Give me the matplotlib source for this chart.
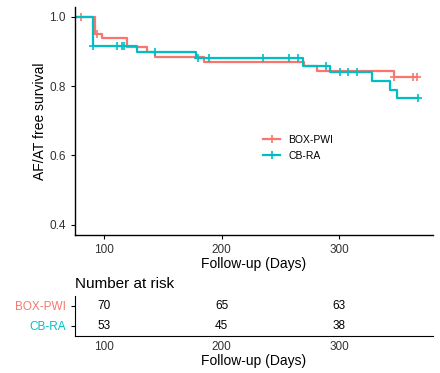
import numpy as np
import matplotlib
matplotlib.use('Agg')
from matplotlib import pyplot as plt

plt.rcParams['font.family'] = ['Liberation Sans', 'DejaVu Sans']

RED = '#F8766D'
CYAN = '#00BFC4'
GROUPS = ['BOX-PWI', 'CB-RA']

# Kaplan-Meier steps
box_times = [0, 92, 98, 119, 136, 143, 184.5, 270, 281, 347, 366]
box_surv = [1.0, 0.950, 0.938, 0.912, 0.900, 0.884, 0.869, 0.858, 0.843, 0.827, 0.827]
box_censor = [80, 94, 347, 363, 366]

cb_times = [0, 90, 128, 178, 269.6, 292, 328, 343, 349, 367]
cb_surv = [1.0, 0.916, 0.899, 0.880, 0.859, 0.840, 0.814, 0.790, 0.766, 0.766]
cb_censor = [90, 111, 115, 117, 143, 180, 189, 235, 257, 265, 289, 301, 308, 315, 367]

risk_times = [100, 200, 300]
risk_box = [70, 65, 63]
risk_cb = [53, 45, 38]

XLIM = (75, 380)
TXT = '#333333'


def step_value(times, surv, t):
    idx = np.searchsorted(times, t, side='right') - 1
    return np.asarray(surv)[idx]


fig = plt.figure(figsize=(4.4, 3.73), dpi=100)

ax = fig.add_axes([75 / 440, 1 - 235 / 373, (433 - 75) / 440, (235 - 6.5) / 373])
for times, surv, cens, col, name in [(box_times, box_surv, box_censor, RED, GROUPS[0]),
                                     (cb_times, cb_surv, cb_censor, CYAN, GROUPS[1])]:
    ax.step(times, surv, where='post', color=col, lw=1.6)
    ax.plot(cens, step_value(times, surv, cens), linestyle='none',
            marker='+', color=col, markersize=6, markeredgewidth=1.2)
    ax.plot([], [], color=col, lw=1.6, marker='+', markersize=6,
            markeredgewidth=1.2, label=name)

ax.set_xlim(*XLIM)
ax.set_ylim(0.37, 1.03)
ax.set_yticks([0.4, 0.6, 0.8, 1.0])
ax.set_xticks([100, 200, 300])
ax.set_xlabel('Follow-up (Days)', fontsize=10, labelpad=1)
ax.set_ylabel('AF/AT free survival', fontsize=10, labelpad=2)
ax.tick_params(labelsize=8.5, labelcolor=TXT, length=3, width=0.8)
for s in ['top', 'right']:
    ax.spines[s].set_visible(False)
for s in ['left', 'bottom']:
    ax.spines[s].set_linewidth(1.0)
ax.legend(loc='upper left', bbox_to_anchor=(0.5, 0.48), frameon=False,
          fontsize=7.5, handlelength=1.6, labelspacing=0.6)

# risk table
rax = fig.add_axes([75 / 440, 1 - 336 / 373, (433 - 75) / 440, 40 / 373])
for row, vals in [(1, risk_box), (0, risk_cb)]:
    for t, v in zip(risk_times, vals):
        rax.text(t, row, str(v), ha='center', va='center', fontsize=8.5, color='black')
rax.set_xlim(*XLIM)
rax.set_ylim(-0.5, 1.5)
rax.set_yticks([1, 0])
rax.set_yticklabels(GROUPS, fontsize=8.5)
for lab, col in zip(rax.get_yticklabels(), [RED, CYAN]):
    lab.set_color(col)
rax.set_xticks([100, 200, 300])
rax.tick_params(axis='x', labelsize=8.5, labelcolor=TXT, length=0)
rax.tick_params(axis='y', length=3, width=0.8)
rax.set_xlabel('Follow-up (Days)', fontsize=10, labelpad=1)
rax.set_title('Number at risk', loc='left', fontsize=11, pad=6)
for s in ['top', 'right']:
    rax.spines[s].set_visible(False)

fig.savefig('out.png', dpi=100)
